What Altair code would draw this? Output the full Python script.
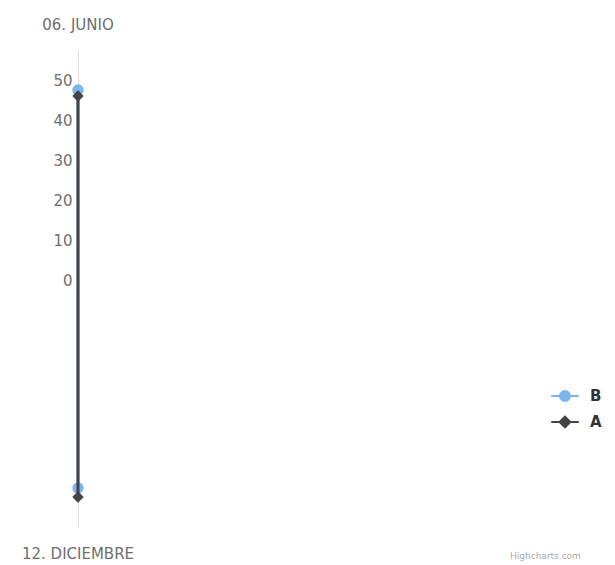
import altair as alt
import pandas as pd

# ---- data ----
series = ["B", "B", "A", "A"]
fechas = ["06. JUNIO", "12. DICIEMBRE", "06. JUNIO", "12. DICIEMBRE"]
valores = [47.5, -52.0, 46.0, -54.25]

orden_series = ["B", "A"]
colores = ["#7cb5ec", "#434348"]
marcadores = ["circle", "diamond"]
ticks_y = [0, 10, 20, 30, 40, 50]
etiquetas_fecha = ["06. JUNIO", "12. DICIEMBRE"]
marca_agua = ["Highcharts.com"]

# legend symbols: short line with a marker on it
simbolos_leyenda = [
    "M-1.15,0H1.15M0.42,0A0.42,0.42,0,1,1,-0.42,0A0.42,0.42,0,1,1,0.42,0Z",
    "M-1.15,0H1.15M0,-0.45L0.45,0L0,0.45L-0.45,0Z",
]

df = pd.DataFrame({"serie": series, "fecha": fechas, "valor": valores})

FONT = "DejaVu Sans"

y_scale = alt.Scale(domain=[-61.75, 57.5], nice=False, zero=False)
y_axis = alt.Axis(values=ticks_y, ticks=False, grid=False, domainColor="#dcdcdc",
                  domainWidth=1, labelColor="#6e6e6e", labelFontSize=15, labelFont=FONT,
                  labelPadding=6, title=None)
Y = alt.Y("valor:Q", scale=y_scale, axis=y_axis)

stroke_scale = alt.Scale(domain=orden_series, range=colores)
fill_scale = alt.Scale(domain=orden_series, range=colores)
shape_scale = alt.Scale(domain=orden_series, range=simbolos_leyenda)

leg = alt.Legend(title=None, orient="none", legendX=474, legendY=333,
                 symbolSize=576, symbolStrokeWidth=2, labelFont=FONT,
                 labelFontWeight="bold", labelFontSize=15, labelColor="#333333",
                 labelOffset=12, rowPadding=3, symbolOpacity=1)

base = alt.Chart(df)

# legend-only layer first so its legend settings win the merge
leyenda = base.transform_filter("false").mark_point(filled=True, strokeWidth=2, opacity=1).encode(
    x=alt.value(0), y=Y,
    fill=alt.Fill("serie:N", scale=fill_scale, legend=leg),
    stroke=alt.Stroke("serie:N", scale=stroke_scale, legend=leg),
    shape=alt.Shape("serie:N", scale=shape_scale, legend=leg),
)

capas = [leyenda]
for s, m in zip(orden_series, marcadores):
    sub = base.transform_filter(alt.datum.serie == s)
    linea = sub.mark_line(strokeWidth=3).encode(
        x=alt.value(0), y=Y,
        stroke=alt.Stroke("serie:N", scale=stroke_scale, legend=None),
    )
    puntos = sub.mark_point(filled=True, shape=m, size=130, opacity=1).encode(
        x=alt.value(0), y=Y,
        fill=alt.Fill("serie:N", scale=fill_scale, legend=None),
    )
    capas += [linea, puntos]

t_top = alt.Chart(pd.DataFrame({"t": [etiquetas_fecha[0]]})).mark_text(
    font=FONT, fontSize=15, color="#6e6e6e", align="center", baseline="middle"
).encode(text="t:N", x=alt.value(0), y=alt.value(-25))

t_bot = alt.Chart(pd.DataFrame({"t": [etiquetas_fecha[1]]})).mark_text(
    font=FONT, fontSize=15, color="#6e6e6e", align="center", baseline="middle"
).encode(text="t:N", x=alt.value(0), y=alt.value(504))

t_wm = alt.Chart(pd.DataFrame({"t": marca_agua})).mark_text(
    font=FONT, fontSize=9, color="#aaaaaa", align="left", baseline="middle"
).encode(text="t:N", x=alt.value(432), y=alt.value(506))

chart = alt.layer(*capas, t_top, t_bot, t_wm).properties(
    width=529, height=477,
    autosize=alt.AutoSizeParams(type="none"),
    padding={"left": 70, "top": 42, "right": 0, "bottom": 38},
).configure_view(strokeWidth=0)

chart.save("out.html", embed_options={"renderer": "svg", "actions": False})
